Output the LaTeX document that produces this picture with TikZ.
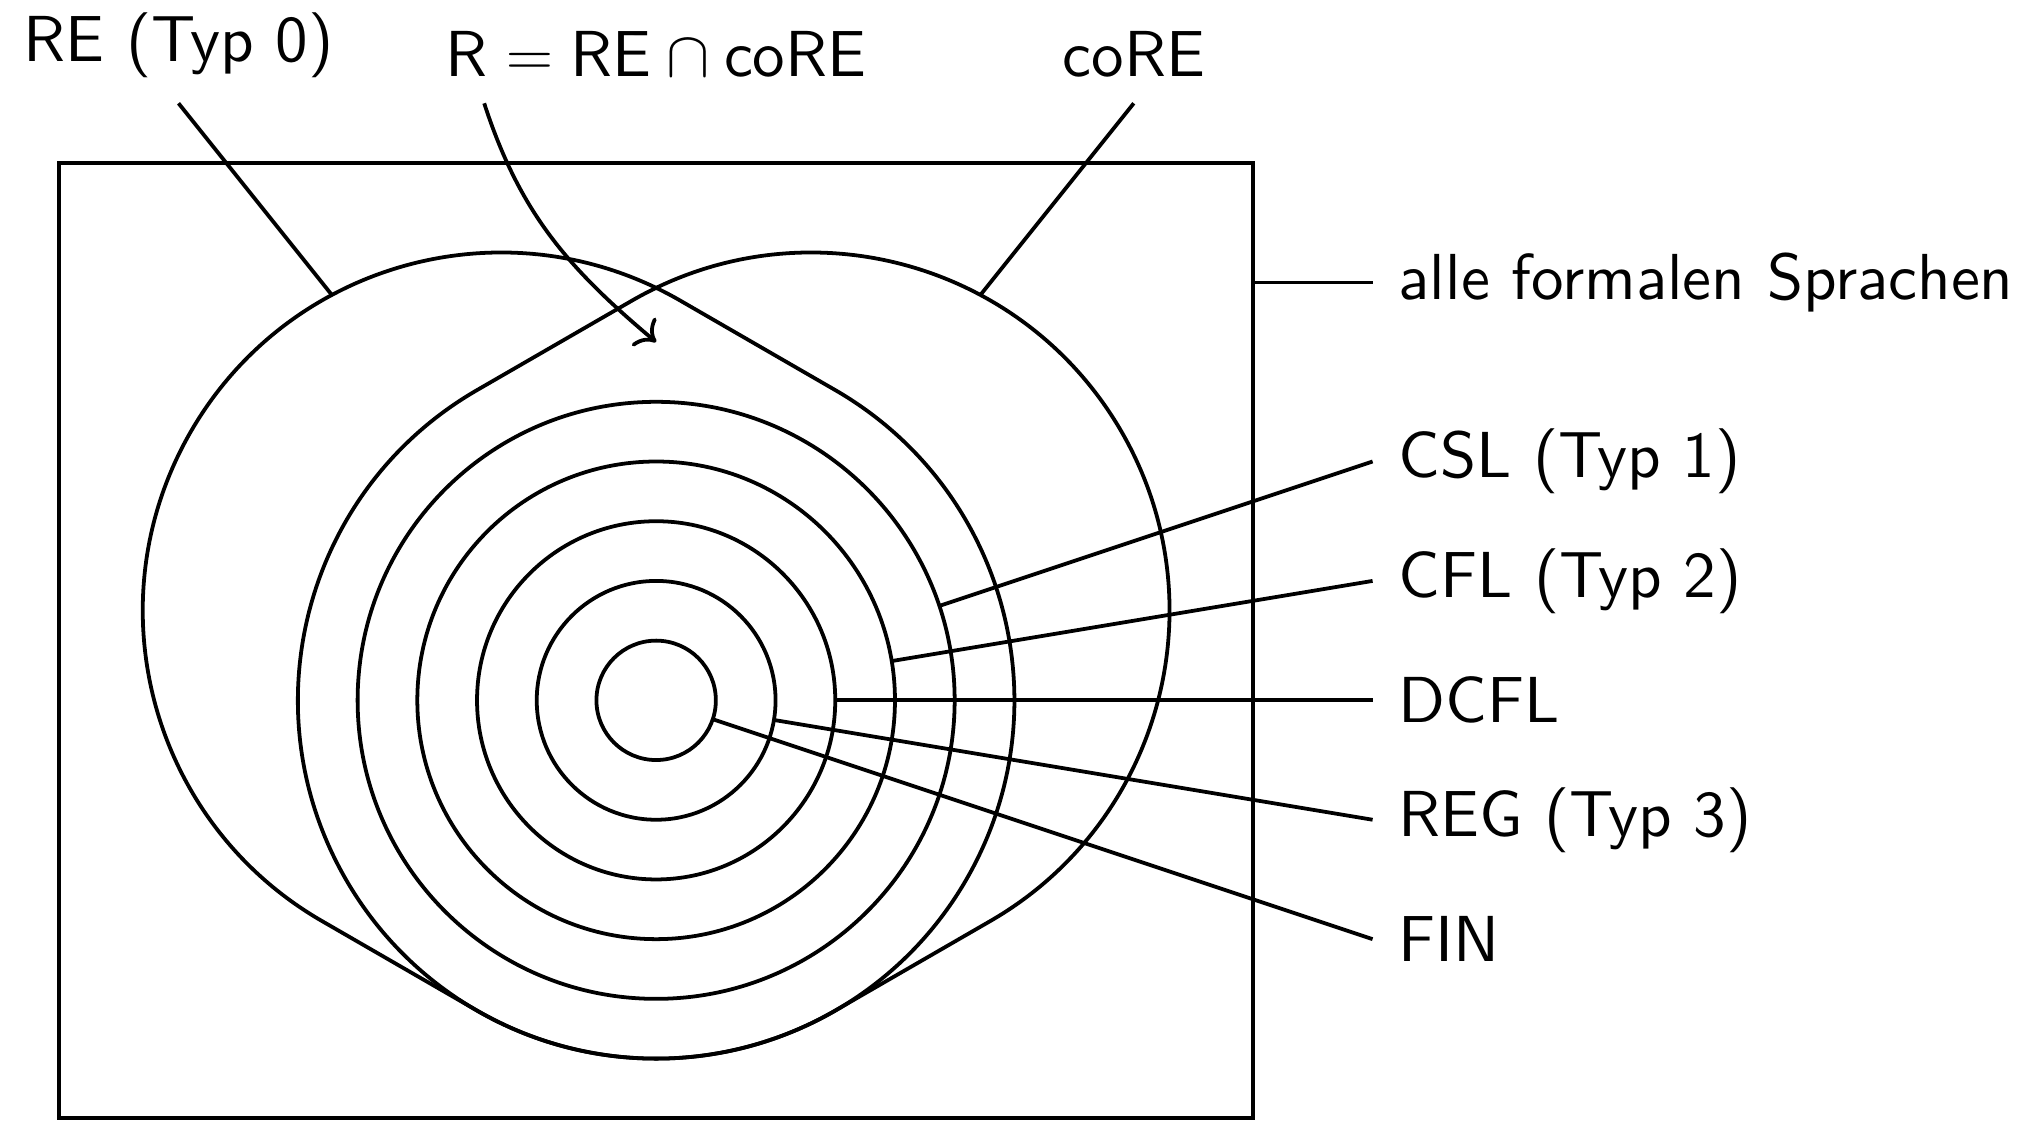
\RequirePackage{fix-cm}
\documentclass[tikz,border=0pt]{standalone}
\usepackage{fontspec}
\newfontfamily\lmten{lmsans10-regular.otf}
\usetikzlibrary{calc,arrows.meta}
\begin{document}
\begin{tikzpicture}[
  line width=1.8pt,
  lbl/.style={font=\fontsize{31}{37}\selectfont\lmten, inner sep=11.5pt},
  toplbl/.style={lbl, anchor=south},
  sidelbl/.style={lbl, anchor=west},
]
\useasboundingbox (-10.99,-7.43) rectangle (22.81,11.73);
\coordinate (O) at (0,0);
\coordinate (A) at (150:3);
\coordinate (B) at (30:3);
\coordinate (rtgt) at (0,6);
% frame: all formal languages
\node[draw, minimum width=20cm, minimum height=16cm, inner sep=0pt] (all) at (0,1) {};
% RE
\draw ($(A)+(60:6)$) arc[start angle=60, end angle=240, radius=6]
  -- ($(O)+(240:6)$) arc[start angle=240, end angle=420, radius=6] -- cycle;
% coRE
\draw ($(B)+(-60:6)$) arc[start angle=-60, end angle=120, radius=6]
  -- ($(O)+(120:6)$) arc[start angle=120, end angle=300, radius=6] -- cycle;
% nested classes
\foreach \r in {1,...,5} \draw (O) circle[radius=\r];
% top labels
\node[toplbl] (re) at (-8,10) {RE (Typ 0)};
\node[toplbl] (r) at (0,10) {R$\;=\;$RE$\:\cap\:$coRE};
\node[toplbl] (core) at (8,10) {coRE};
\draw (re.south) -- ($(re.south)!0.3211!(O)$);
\draw (core.south) -- ($(core.south)!0.3211!(O)$);
\draw[-{Computer Modern Rightarrow[scale=1.5]}] ([xshift=-2.88cm]r.south) to[out=-72, in=140] (rtgt);
% side labels
\node[sidelbl] (allf) at (12,7) {alle formalen Sprachen};
\node[sidelbl] (csl) at (12,4) {CSL (Typ 1)};
\node[sidelbl] (cfl) at (12,2) {CFL (Typ 2)};
\node[sidelbl] (dcfl) at (12,0) {DCFL};
\node[sidelbl] (reg) at (12,-2) {REG (Typ 3)};
\node[sidelbl] (fin) at (12,-4) {FIN};
\draw (allf.west) -- (allf.west -| all.east);
\draw (csl.west) -- ($(O)!5cm!(csl.west)$);
\draw (cfl.west) -- ($(O)!4cm!(cfl.west)$);
\draw (dcfl.west) -- ($(O)!3cm!(dcfl.west)$);
\draw (reg.west) -- ($(O)!2cm!(reg.west)$);
\draw (fin.west) -- ($(O)!1cm!(fin.west)$);
\end{tikzpicture}
\end{document}
